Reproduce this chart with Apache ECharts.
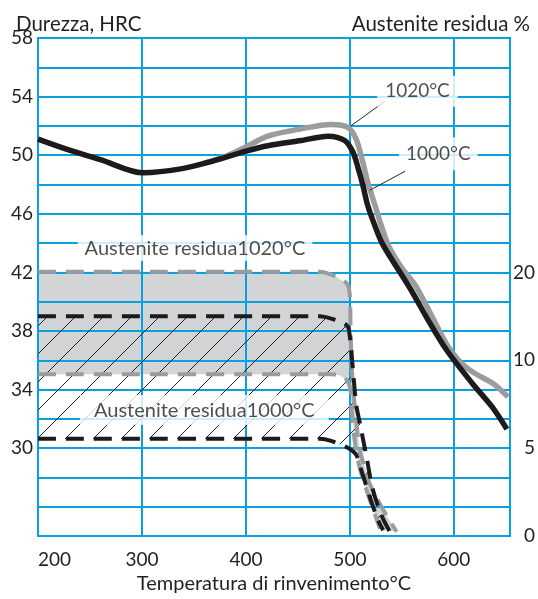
<!DOCTYPE html>
<html>
<head>
<meta charset="utf-8">
<script src="https://cdn.jsdelivr.net/npm/echarts@6/dist/echarts.min.js"></script>
<style>
  html, body { margin: 0; background: #fff; }
  #chart { width: 538px; height: 599px; }
</style>
</head>
<body>
<div id="chart"></div>
<script>
// tick labels
const tempTicks = [200, 300, 400, 500, 600];
const hrcTicks = [30, 34, 38, 42, 46, 50, 54, 58];
// right axis (austenite %) is read against the HRC gridlines
const austTickHrc = [24, 30, 36, 42];
const austTickLabels = ['0', '5', '10', '20'];

// hardness curves [temperature °C, HRC]
const hard1000 = [[200, 51.1], [228, 50.4], [260, 49.7], [301, 48.8], [340, 49.1], [368, 49.6], [401, 50.3], [421, 50.65], [453, 51.0], [479, 51.3], [495, 51.0], [503, 50.2], [508, 49.1], [512.5, 47.95], [517, 46.6], [524, 45.2], [531.7, 43.9], [558, 40.9], [574, 38.9], [593, 36.7], [618, 34.4], [637, 32.8], [651, 31.3]];
const hard1020 = [[360, 49.45], [380, 49.9], [401, 50.6], [421, 51.3], [453, 51.8], [482, 52.1], [498, 51.9], [506, 51.1], [512.5, 49.5], [517, 48.2], [524, 46.6], [532, 44.8], [538, 43.7], [550, 42.3], [564, 41.0], [593, 37.1], [606, 35.9], [618, 35.2], [638, 34.4], [652, 33.5]];

// residual austenite bands, placed on the HRC scale
const aust1020Upper = [[200, 42.05], [471, 42.05], [487, 41.7], [497.5, 41.2], [500, 40.4], [500.6, 38.2], [501.6, 36.0], [503, 34.2], [506.4, 31.7], [509.6, 29.9], [519, 27.6], [532, 25.8], [545, 24.3]];
const aust1020Lower = [[200, 35.05], [481, 35.05], [490, 35.0], [497.5, 34.6], [500.6, 33.9], [501.6, 32.6], [505, 30.3], [510, 28.5], [519, 26.5], [529, 24.5]];
const aust1000Upper = [[200, 39.0], [471, 39.0], [484, 38.8], [495, 38.5], [499, 38.1], [503, 35.3], [506, 33.0], [509.6, 31.7], [516, 29.4], [522, 27.2], [530.5, 25.4], [538, 24.35]];
const aust1000Lower = [[200, 30.65], [471, 30.65], [482, 30.5], [497, 30.06], [506, 29.55], [511, 28.5], [519, 26.7], [527, 25.1], [532, 24.4]];

// annotations [temperature, HRC]
const notes = [
  { name: 'Austenite residua1020°C', value: [351, 43.66], pad: [3, 7], size: 20 },
  { name: 'Austenite residua1000°C', value: [360, 32.6], pad: [5, 14], size: 20 },
  { name: '1020°C', value: [565, 54.36], pad: [6, 8], size: 19 },
  { name: '1000°C', value: [585, 50.1], pad: [7, 7], size: 19 }
];
const leaders = [
  [[534, 53.7], [501, 52.0]],
  [[553, 48.9], [519, 47.6]]
];

const FONT = 'Lato';
const TEXT = '#231f20';
const BLUE = '#0a9fdf';
const GREY = '#9b9c9e';
const BLACK = '#1c1a1b';

// diagonal hatch pattern
function hatch() {
  const s = 28;
  const c = document.createElement('canvas');
  c.width = s; c.height = s;
  const g = c.getContext('2d');
  g.strokeStyle = '#222';
  g.lineWidth = 1;
  g.beginPath();
  g.moveTo(0, s); g.lineTo(s, 0);
  g.moveTo(-2, 2); g.lineTo(2, -2);
  g.moveTo(s - 2, s + 2); g.lineTo(s + 2, s - 2);
  g.stroke();
  return c;
}

function band(upper, lower, fill, z) {
  return {
    type: 'custom',
    z: z,
    silent: true,
    clip: true,
    data: [upper[0]],
    renderItem: function (params, api) {
      const pts = upper.map(p => api.coord(p)).concat(lower.slice().reverse().map(p => api.coord(p)));
      return { type: 'polygon', shape: { points: pts }, style: { fill: fill, stroke: null } };
    }
  };
}

function curve(data, color, width, dashed, z) {
  return {
    type: 'line',
    data: data,
    z: z,
    smooth: 0.3,
    symbol: 'none',
    silent: true,
    lineStyle: { color: color, width: width, type: dashed ? [18, 10] : 'solid', cap: 'butt' }
  };
}

const chart = echarts.init(document.getElementById('chart'));
chart.setOption({
  animation: false,
  title: [
    { text: 'Durezza, HRC', left: 11, top: 9, textStyle: { fontFamily: FONT, fontSize: 20.5, fontWeight: 'normal', color: TEXT } },
    { text: 'Austenite residua %', right: 3, top: 9, textStyle: { fontFamily: FONT, fontSize: 20.5, fontWeight: 'normal', color: TEXT } }
  ],
  grid: { left: 38, right: 28, top: 38, bottom: 60, show: true, borderColor: BLUE, borderWidth: 2 },
  xAxis: {
    type: 'value', min: 200, max: 654, interval: 100,
    name: 'Temperatura di rinvenimento°C', nameLocation: 'middle', nameGap: 37,
    nameTextStyle: { fontFamily: FONT, fontSize: 20, color: TEXT },
    axisLine: { show: false }, axisTick: { show: false },
    axisLabel: { margin: 14, alignMinLabel: 'left', fontFamily: FONT, fontSize: 19, color: TEXT, formatter: v => tempTicks.includes(v) ? v : '' },
    splitLine: { lineStyle: { color: BLUE, width: 2 } }
  },
  yAxis: [
    {
      type: 'value', min: 24, max: 58, interval: 2,
      axisLine: { show: false }, axisTick: { show: false },
      axisLabel: { margin: 5, fontFamily: FONT, fontSize: 19, color: TEXT, formatter: v => hrcTicks.includes(v) ? v : '' },
      splitLine: { lineStyle: { color: BLUE, width: 2 } }
    },
    {
      type: 'value', min: 24, max: 58, interval: 2, position: 'right',
      axisLine: { show: false }, axisTick: { show: false },
      axisLabel: {
        margin: 25, align: 'right', fontFamily: FONT, fontSize: 19, color: TEXT,
        formatter: v => { const i = austTickHrc.indexOf(v); return i >= 0 ? austTickLabels[i] : ''; }
      },
      splitLine: { show: false }
    }
  ],
  series: [
    band(aust1020Upper, aust1020Lower, 'rgba(120,123,128,0.33)', -1),
    band(aust1000Upper, aust1000Lower, { image: hatch(), repeat: 'repeat' }, 1),
    curve(aust1020Upper, GREY, 4, true, 2),
    curve(aust1020Lower, GREY, 4, true, 2),
    curve(aust1000Upper, BLACK, 4, true, 2),
    curve(aust1000Lower, BLACK, 4, true, 2),
    curve(hard1020, GREY, 5.5, false, 3),
    curve(hard1000, BLACK, 5.5, false, 4),
    {
      type: 'scatter',
      z: 6,
      silent: true,
      symbolSize: 1,
      itemStyle: { color: 'transparent' },
      data: notes.map(n => ({
        name: n.name, value: n.value,
        label: { padding: n.pad, fontSize: n.size }
      })),
      label: {
        show: true, position: 'inside', formatter: '{b}',
        fontFamily: FONT, color: TEXT, backgroundColor: '#fff'
      },
      markLine: {
        silent: true,
        symbol: ['none', 'none'],
        label: { show: false },
        lineStyle: { color: '#222', width: 1, type: 'solid' },
        data: leaders.map(l => [{ coord: l[0] }, { coord: l[1] }])
      }
    }
  ]
});
</script>
</body>
</html>
